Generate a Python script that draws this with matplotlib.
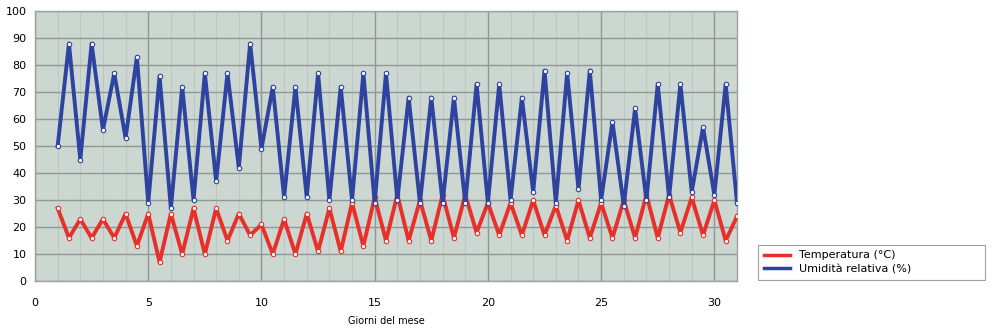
import numpy as np
from matplotlib import pyplot as plt

# days of the month, one reading every half day
giorni = np.arange(1, 31.01, 0.5)

umidita = [50, 88, 45, 88, 56, 77, 53, 83, 29, 76,
           27, 72, 30, 77, 37, 77, 42, 88, 49, 72,
           31, 72, 31, 77, 30, 72, 30, 77, 29, 77,
           30, 68, 29, 68, 29, 68, 29, 73, 29, 73,
           30, 68, 33, 78, 29, 77, 34, 78, 30, 59,
           28, 64, 30, 73, 31, 73, 33, 57, 32, 73,
           29]

temperatura = [27, 16, 23, 16, 23, 16, 25, 13, 25, 7,
               25, 10, 27, 10, 27, 15, 25, 17, 21, 10,
               23, 10, 25, 11, 27, 11, 29, 13, 31, 15,
               32, 15, 30, 15, 32, 16, 32, 18, 29, 17,
               29, 17, 30, 17, 28, 15, 30, 16, 29, 16,
               30, 16, 32, 16, 32, 18, 31, 17, 30, 15,
               24]

fig = plt.figure(figsize=(10, 3.3), dpi=100)
ax = fig.add_axes([0.035, 0.148, 0.702, 0.818])
ax.set_facecolor('#ccd7d2')

ax.plot(giorni, temperatura, color='#e8302a', lw=2.8, marker='o', ms=3.2,
        mfc='white', mec='#e8302a', mew=0.8, label='Temperatura (°C)', zorder=3)
ax.plot(giorni, umidita, color='#2e43a0', lw=2.8, marker='o', ms=3.2,
        mfc='white', mec='#2e43a0', mew=0.8, label='Umidità relativa (%)', zorder=3)

ax.set_xlim(0, 31)
ax.set_ylim(0, 100)
ax.set_xticks(range(0, 31, 5))
ax.set_yticks(range(0, 101, 10))
ax.set_xticks(range(0, 32), minor=True)
ax.grid(which='major', color='#8f9894', lw=1.0, zorder=1)
ax.grid(which='minor', axis='x', color='#bcc7c2', lw=0.8, zorder=0)
ax.tick_params(which='both', length=0, labelsize=8, pad=6)
ax.tick_params(axis='x', pad=12)
for s in ax.spines.values():
    s.set_color('#9aa39f')
    s.set_linewidth(1.0)

ax.set_xlabel('Giorni del mese', fontsize=7, labelpad=6)

leg = fig.legend(loc='lower left', bbox_to_anchor=(0.758, 0.152, 0.227, 0.11),
                 mode='expand', fontsize=8, frameon=True, fancybox=False,
                 handlelength=2.4, borderpad=0.5, labelspacing=0.35,
                 borderaxespad=0)
leg.get_frame().set_edgecolor('#888888')
leg.get_frame().set_linewidth(0.8)
for line in leg.get_lines():
    line.set_marker('')
    line.set_linewidth(2.5)

fig.savefig('out.png', dpi=100)
